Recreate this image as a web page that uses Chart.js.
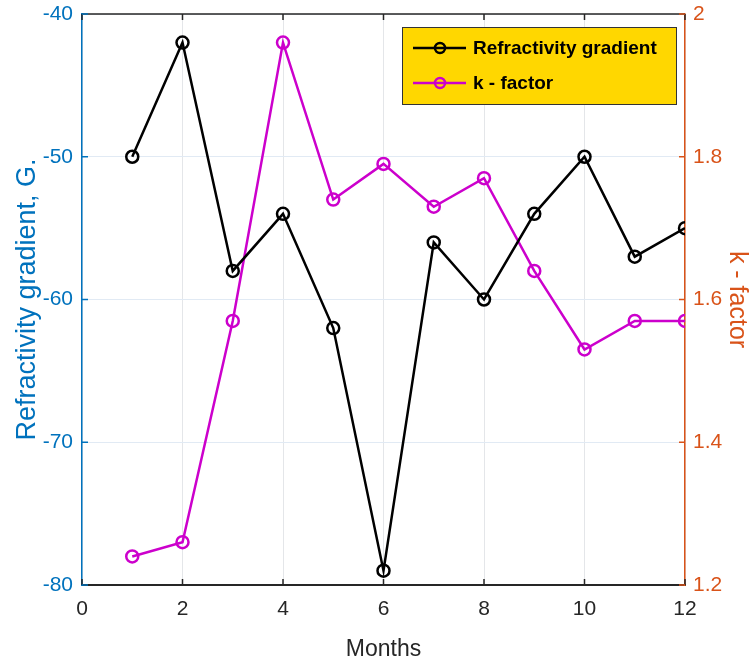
<!DOCTYPE html>
<html>
<head>
<meta charset="utf-8">
<script src="https://cdn.jsdelivr.net/npm/chart.js@4"></script>
<style>
  body { margin: 0; background: #fff; }
  #wrap { width: 749px; height: 665px; }
</style>
</head>
<body>
<div id="wrap"><canvas id="myChart" width="749" height="665"></canvas></div>
<script>
// data
const months = [1, 2, 3, 4, 5, 6, 7, 8, 9, 10, 11, 12];
const refractivity = [-50, -42, -58, -54, -62, -79, -56, -60, -54, -50, -57, -55];
const kFactor = [1.24, 1.26, 1.57, 1.96, 1.74, 1.79, 1.73, 1.77, 1.64, 1.53, 1.57, 1.57];
const xTicks = [0, 2, 4, 6, 8, 10, 12];

const sans = "'Liberation Sans', Arial, sans-serif";
const blue = '#0072BD';
const orange = '#D95319';

// legend box + top border + inward ticks (matlab style)
const extras = {
  id: 'extras',
  afterDraw(chart) {
    const ctx = chart.ctx;
    const a = chart.chartArea;
    const xs = chart.scales.x;
    const yl = chart.scales.y;
    ctx.save();
    // top border
    ctx.strokeStyle = '#262626';
    ctx.lineWidth = 1.5;
    ctx.beginPath();
    ctx.moveTo(a.left, a.top);
    ctx.lineTo(a.right, a.top);
    ctx.stroke();
    // tick marks pointing in
    xTicks.forEach(t => {
      const px = xs.getPixelForValue(t);
      ctx.beginPath();
      ctx.moveTo(px, a.bottom); ctx.lineTo(px, a.bottom - 6);
      ctx.moveTo(px, a.top); ctx.lineTo(px, a.top + 6);
      ctx.stroke();
    });
    [-80, -70, -60, -50, -40].forEach(t => {
      const py = yl.getPixelForValue(t);
      ctx.strokeStyle = blue;
      ctx.beginPath(); ctx.moveTo(a.left, py); ctx.lineTo(a.left + 6, py); ctx.stroke();
      ctx.strokeStyle = orange;
      ctx.beginPath(); ctx.moveTo(a.right, py); ctx.lineTo(a.right - 6, py); ctx.stroke();
    });

    // legend
    const bx = 402, by = 27, bw = 274, bh = 77;
    ctx.fillStyle = '#FFD700';
    ctx.fillRect(bx, by, bw, bh);
    ctx.strokeStyle = '#333';
    ctx.lineWidth = 1;
    ctx.strokeRect(bx + 0.5, by + 0.5, bw, bh);
    const rows = [48, 83];
    chart.data.datasets.forEach((ds, i) => {
      const yy = rows[i];
      ctx.strokeStyle = ds.borderColor;
      ctx.lineWidth = 2.5;
      ctx.beginPath(); ctx.moveTo(413, yy); ctx.lineTo(466, yy); ctx.stroke();
      ctx.beginPath(); ctx.arc(440, yy, 5, 0, Math.PI * 2); ctx.stroke();
      ctx.fillStyle = '#000';
      ctx.font = 'bold 19px ' + sans;
      ctx.textBaseline = 'middle';
      ctx.textAlign = 'left';
      ctx.fillText(ds.label, 473, yy + 1);
    });
    ctx.restore();
  }
};

const canvas = document.getElementById('myChart').getContext('2d');
const myChart = new Chart(canvas, {
  type: 'line',
  data: {
    datasets: [
      {
        label: 'Refractivity gradient',
        data: months.map((m, i) => ({ x: m, y: refractivity[i] })),
        borderColor: '#000000',
        backgroundColor: 'rgba(0,0,0,0)',
        borderWidth: 2.5,
        pointRadius: 6,
        pointBorderWidth: 2.5,
        pointBackgroundColor: 'rgba(0,0,0,0)',
        yAxisID: 'y'
      },
      {
        label: 'k - factor',
        data: months.map((m, i) => ({ x: m, y: kFactor[i] })),
        borderColor: '#CC00CC',
        backgroundColor: 'rgba(0,0,0,0)',
        borderWidth: 2.5,
        pointRadius: 6,
        pointBorderWidth: 2.5,
        pointBackgroundColor: 'rgba(0,0,0,0)',
        yAxisID: 'y1'
      }
    ]
  },
  options: {
    responsive: false,
    animation: false,
    layout: { padding: { top: 14, left: 0, right: 0, bottom: 0 } },
    plugins: {
      legend: { display: false },
      tooltip: { enabled: false }
    },
    scales: {
      x: {
        type: 'linear',
        min: 0, max: 12,
        afterBuildTicks: s => { s.ticks = xTicks.map(v => ({ value: v })); },
        afterFit: s => { s.height = 80; },
        border: { color: '#262626', width: 2 },
        grid: { color: '#e4e6e9', drawTicks: false, lineWidth: 1 },
        ticks: { color: '#262626', padding: 14, font: { family: sans, size: 21, lineHeight: 1.0 } },
        title: { display: true, text: 'Months', color: '#262626', font: { family: sans, size: 23, lineHeight: 1.0 }, padding: { top: 4, bottom: 4 } }
      },
      y: {
        position: 'left',
        min: -80, max: -40,
        ticks: { stepSize: 10, color: blue, padding: 9, font: { family: sans, size: 21, lineHeight: 1.0 } },
        afterFit: s => { s.width = 82; s.paddingTop = 0; s.paddingBottom = 0; },
        border: { color: blue, width: 1.5 },
        grid: { color: '#e1eaf4', drawTicks: false, lineWidth: 1 },
        title: { display: true, text: 'Refractivity gradient, G.', color: blue, font: { family: sans, size: 27, lineHeight: 1.0 }, padding: { top: 14, bottom: 0 } }
      },
      y1: {
        position: 'right',
        min: 1.2, max: 2,
        ticks: { stepSize: 0.2, color: orange, padding: 8, font: { family: sans, size: 21, lineHeight: 1.0 },
          callback: v => Number(v.toFixed(1)).toString() },
        afterFit: s => { s.width = 64; s.paddingTop = 0; s.paddingBottom = 0; },
        border: { color: orange, width: 1.5 },
        grid: { display: false, drawTicks: false },
        title: { display: true, text: 'k - factor', color: orange, font: { family: sans, size: 25, lineHeight: 1.0 }, padding: { top: 0, bottom: 0 } }
      }
    }
  },
  plugins: [extras]
});
</script>
</body>
</html>
